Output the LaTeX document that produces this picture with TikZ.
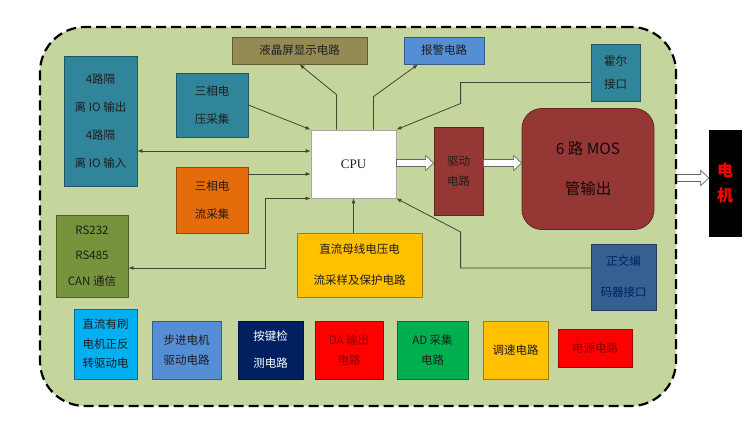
\documentclass[tikz,border=0pt]{standalone}
\usepackage{fontspec}
\setmainfont{Noto Sans CJK SC}
\newfontfamily\cpufont{Liberation Serif}
\definecolor{BoardGreen}{RGB}{196, 214, 158}
\definecolor{IoTeal}{RGB}{49, 133, 155}
\definecolor{CurrOrange}{RGB}{228, 108, 10}
\definecolor{LcdBrown}{RGB}{148, 138, 84}
\definecolor{SoftBlue}{RGB}{85, 142, 213}
\definecolor{DriveRed}{RGB}{149, 55, 53}
\definecolor{CommGreen}{RGB}{119, 147, 60}
\definecolor{BusYellow}{RGB}{255, 192, 0}
\definecolor{EncBlue}{RGB}{54, 96, 146}
\definecolor{BrushCyan}{RGB}{0, 176, 240}
\definecolor{KeyNavy}{RGB}{0, 32, 96}
\definecolor{PureRed}{RGB}{255, 0, 0}
\definecolor{AdGreen}{RGB}{0, 176, 80}
\definecolor{WireGray}{RGB}{62, 72, 46}
\definecolor{DarkText}{RGB}{30, 30, 30}
\usepackage{tikz}
\usetikzlibrary{calc,arrows.meta,positioning}

% hollow block arrow between two points
\newcommand{\fatarrow}[2]{%
  \draw[fat] let \p1=(#1), \p2=(#2) in
    (\x1,\y1+3.5pt) -- (\x2-8pt,\y1+3.5pt) -- (\x2-8pt,\y1+7.5pt) -- (\x2,\y1)
    -- (\x2-8pt,\y1-7.5pt) -- (\x2-8pt,\y1-3.5pt) -- (\x1,\y1-3.5pt) -- cycle;}

\begin{document}
\begin{tikzpicture}[
    x=1pt, y=-1pt,
    box/.style={draw=#1!65!black, fill=#1, line width=0.8pt, inner sep=0pt, align=center,
        text=DarkText, font=\fontsize{11.5}{27}\selectfont},
    sz/.style 2 args={minimum width=#1pt, minimum height=#2pt},
    lead/.style={font=\fontsize{11.5}{#1}\selectfont},
    arr/.style={-{Latex[length=5pt,width=4pt]}, WireGray, line width=0.8pt},
    dbl/.style={{Latex[length=5pt,width=4pt]}-{Latex[length=5pt,width=4pt]}, WireGray, line width=0.8pt},
    fat/.style={draw=gray!80!black, fill=white, line width=0.7pt}
]
    \useasboundingbox (0,0) rectangle (750,425);

    % board outline
    \node[draw=black, fill=BoardGreen, dash pattern=on 10pt off 5pt, line width=2.2pt,
        rounded corners=45pt, sz={636}{379}] (board) at (358,216.5) {};

    % left side
    \node[box=IoTeal, sz={73}{130}, lead=28] (io) at (100.5,121) {4路隔\\离 IO 输出\\4路隔\\离 IO 输入};
    \node[box=IoTeal, sz={72}{64}, lead=28] (volt) at (212,105) {三相电\\压采集};
    \node[box=CurrOrange, sz={72}{66}, lead=28] (curr) at (212,200) {三相电\\流采集};
    \node[box=CommGreen, sz={72}{82}, lead=25.5] (comm) at (92,256) {RS232\\RS485\\CAN 通信};

    % top
    \node[box=LcdBrown, sz={135}{27}] (lcd) at (299.5,50.5) {液晶屏显示电路};
    \node[box=SoftBlue, sz={80}{27}] (alarm) at (444,50.5) {报警电路};

    % centre
    \node[box=white, draw=gray!70, sz={85}{68}, font=\cpufont\fontsize{13}{14}\selectfont] (cpu) at (353.5,164) {CPU};
    \node[box=BusYellow, sz={125}{64}, lead=31] (bus) at (359.5,265) {直流母线电压电\\流采样及保护电路};
    \node[box=DriveRed, sz={49}{88}, lead=20] (drv) at (458.5,171) {驱动\\电路};
    \node[box=DriveRed, rounded corners=20pt, sz={132}{121}, text=black!85!DriveRed,
        font=\fontsize{15.5}{40}\selectfont] (mos) at (588,169) {6 路 MOS\\管输出};

    % right side
    \node[box=IoTeal, sz={49}{57}, lead=23] (hall) at (615.5,72.5) {霍尔\\接口};
    \node[box=EncBlue, sz={65}{66}, lead=31, text=KeyNavy] (enc) at (623.5,277) {正交编\\码器接口};
    \node[draw=black, fill=black, sz={32}{106}, inner sep=0pt, align=center, text=PureRed,
        font=\bfseries\fontsize{16}{25}\selectfont] (motor) at (725,183) {电\\机};

    % bottom row
    \node[box=BrushCyan, sz={63}{70}, lead=19.5] (brush) at (105.5,344) {直流有刷\\电机正反\\转驱动电};
    \node[box=SoftBlue, sz={69}{58}, lead=20] (stepper) at (186.5,350) {步进电机\\驱动电路};
    \node[box=KeyNavy, sz={65}{58}, lead=27, text=white] (key) at (270.5,350) {按键检\\测电路};
    \node[box=PureRed, sz={68}{58}, lead=20, text=red!55!black] (da) at (349,350) {DA 输出\\电路};
    \node[box=AdGreen, sz={71}{58}, lead=20] (ad) at (432.5,350) {AD 采集\\电路};
    \node[box=BusYellow, sz={65}{58}] (speed) at (515.5,350) {调速电路};
    \node[box=PureRed, sz={74}{38}, text=red!55!black] (power) at (595,348) {电源电路};

    % signal lines
    \draw[dbl] (io.east |- 0,151) -- (cpu.west |- 0,151);
    \draw[arr] (volt.east) -- (cpu.north west);
    \draw[arr] (curr.east |- 0,174) -- (cpu.west |- 0,174);
    \draw[dbl] (cpu.south west) -- ++(-45,0) |- ([yshift=-12pt]comm.east);
    \draw[arr] (cpu.south |- bus.north) -- (cpu.south);
    \draw[arr] ([xshift=-17pt]cpu.north) -- ++(0,-35) -- (lcd.south);
    \draw[arr] ([xshift=20pt]cpu.north) -- ++(0,-33) -- ([xshift=-26pt]alarm.south);
    \draw[arr] ([yshift=-10pt]hall.west) -- ++(-130,0) -- ++(0,21) -- (cpu.north east);
    \draw[arr] ([yshift=9pt]enc.west) -- ++(-130,0) -- ++(0,-36) -- (cpu.south east);

    % power path
    \fatarrow{cpu.east |- 0,163}{drv.west |- 0,163}
    \fatarrow{drv.east |- 0,163}{mos.west |- 0,163}
    \fatarrow{board.east |- 0,178}{motor.west |- 0,178}
\end{tikzpicture}
\end{document}
